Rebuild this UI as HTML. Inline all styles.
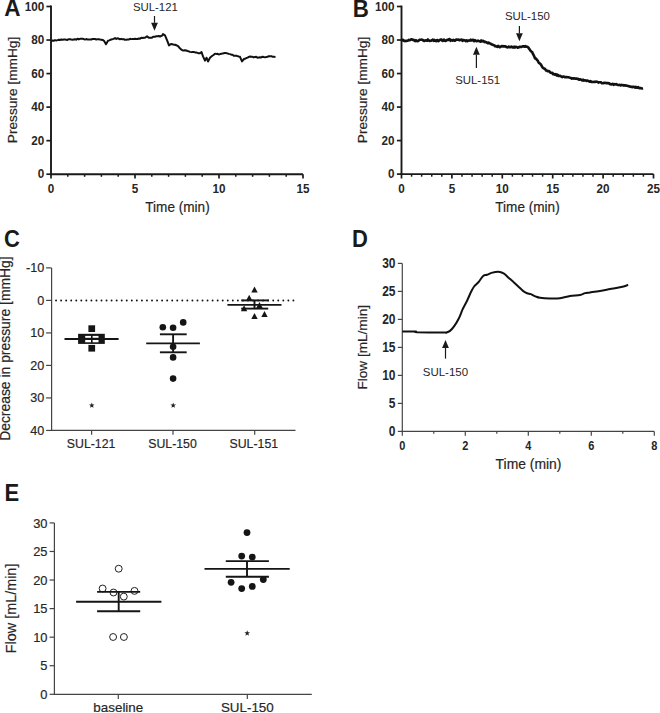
<!DOCTYPE html>
<html><head><meta charset="utf-8"><style>
html,body{margin:0;padding:0;background:#fff;}
body{width:660px;height:713px;overflow:hidden;}
svg{display:block;font-family:"Liberation Sans",sans-serif;}
</style></head><body>
<svg width="660" height="713" viewBox="0 0 660 713">
<rect width="660" height="713" fill="#fff"/>
<text transform="translate(4.30 16.30) scale(1 1.07)" font-size="22.5" font-weight="bold" text-anchor="start" fill="#1a1a1a">A</text>
<line x1="51.00" y1="5.60" x2="51.00" y2="175.10" stroke="#1a1a1a" stroke-width="1.9" />
<line x1="50.10" y1="174.20" x2="303.00" y2="174.20" stroke="#1a1a1a" stroke-width="1.9" />
<line x1="46.40" y1="174.20" x2="51.00" y2="174.20" stroke="#1a1a1a" stroke-width="1.7" />
<text transform="translate(44.30 178.33) scale(1 1.13)" font-size="11.7" font-weight="bold" text-anchor="end" fill="#262626">0</text>
<line x1="46.40" y1="140.66" x2="51.00" y2="140.66" stroke="#1a1a1a" stroke-width="1.7" />
<text transform="translate(44.30 144.79) scale(1 1.13)" font-size="11.7" font-weight="bold" text-anchor="end" fill="#262626">20</text>
<line x1="46.40" y1="107.12" x2="51.00" y2="107.12" stroke="#1a1a1a" stroke-width="1.7" />
<text transform="translate(44.30 111.25) scale(1 1.13)" font-size="11.7" font-weight="bold" text-anchor="end" fill="#262626">40</text>
<line x1="46.40" y1="73.58" x2="51.00" y2="73.58" stroke="#1a1a1a" stroke-width="1.7" />
<text transform="translate(44.30 77.71) scale(1 1.13)" font-size="11.7" font-weight="bold" text-anchor="end" fill="#262626">60</text>
<line x1="46.40" y1="40.04" x2="51.00" y2="40.04" stroke="#1a1a1a" stroke-width="1.7" />
<text transform="translate(44.30 44.17) scale(1 1.13)" font-size="11.7" font-weight="bold" text-anchor="end" fill="#262626">80</text>
<line x1="46.40" y1="6.50" x2="51.00" y2="6.50" stroke="#1a1a1a" stroke-width="1.7" />
<text transform="translate(44.30 10.63) scale(1 1.13)" font-size="11.7" font-weight="bold" text-anchor="end" fill="#262626">100</text>
<line x1="51.00" y1="174.20" x2="51.00" y2="178.60" stroke="#1a1a1a" stroke-width="1.7" />
<text transform="translate(51.00 193.20) scale(1 1.13)" font-size="11.7" font-weight="bold" text-anchor="middle" fill="#262626">0</text>
<line x1="67.80" y1="174.20" x2="67.80" y2="176.80" stroke="#1a1a1a" stroke-width="1.5" />
<line x1="84.60" y1="174.20" x2="84.60" y2="176.80" stroke="#1a1a1a" stroke-width="1.5" />
<line x1="101.40" y1="174.20" x2="101.40" y2="176.80" stroke="#1a1a1a" stroke-width="1.5" />
<line x1="118.20" y1="174.20" x2="118.20" y2="176.80" stroke="#1a1a1a" stroke-width="1.5" />
<line x1="135.00" y1="174.20" x2="135.00" y2="178.60" stroke="#1a1a1a" stroke-width="1.7" />
<text transform="translate(135.00 193.20) scale(1 1.13)" font-size="11.7" font-weight="bold" text-anchor="middle" fill="#262626">5</text>
<line x1="151.80" y1="174.20" x2="151.80" y2="176.80" stroke="#1a1a1a" stroke-width="1.5" />
<line x1="168.60" y1="174.20" x2="168.60" y2="176.80" stroke="#1a1a1a" stroke-width="1.5" />
<line x1="185.40" y1="174.20" x2="185.40" y2="176.80" stroke="#1a1a1a" stroke-width="1.5" />
<line x1="202.20" y1="174.20" x2="202.20" y2="176.80" stroke="#1a1a1a" stroke-width="1.5" />
<line x1="219.00" y1="174.20" x2="219.00" y2="178.60" stroke="#1a1a1a" stroke-width="1.7" />
<text transform="translate(219.00 193.20) scale(1 1.13)" font-size="11.7" font-weight="bold" text-anchor="middle" fill="#262626">10</text>
<line x1="235.80" y1="174.20" x2="235.80" y2="176.80" stroke="#1a1a1a" stroke-width="1.5" />
<line x1="252.60" y1="174.20" x2="252.60" y2="176.80" stroke="#1a1a1a" stroke-width="1.5" />
<line x1="269.40" y1="174.20" x2="269.40" y2="176.80" stroke="#1a1a1a" stroke-width="1.5" />
<line x1="286.20" y1="174.20" x2="286.20" y2="176.80" stroke="#1a1a1a" stroke-width="1.5" />
<line x1="303.00" y1="174.20" x2="303.00" y2="178.60" stroke="#1a1a1a" stroke-width="1.7" />
<text transform="translate(303.00 193.20) scale(1 1.13)" font-size="11.7" font-weight="bold" text-anchor="middle" fill="#262626">15</text>
<text transform="translate(177.50 212.30) scale(1 1.12)" font-size="13.6" font-weight="normal" text-anchor="middle" fill="#262626" stroke="#262626" stroke-width="0.18">Time (min)</text>
<text transform="translate(16.80 90.00) rotate(-90)" font-size="13.7" font-weight="normal" text-anchor="middle" fill="#262626" stroke="#262626" stroke-width="0.18">Pressure [mmHg]</text>
<polyline points="51.00,40.84 52.33,40.52 53.67,40.80 55.00,40.12 56.25,40.41 57.50,40.13 58.75,39.73 60.00,40.01 61.25,39.53 62.50,39.84 63.75,39.46 65.00,39.43 66.25,39.66 67.50,39.94 68.75,39.24 70.00,39.25 71.25,39.56 72.50,39.80 73.75,39.42 75.00,39.21 76.25,39.65 77.50,38.74 78.75,39.40 80.00,38.81 81.25,38.75 82.50,38.81 83.75,39.05 85.00,39.58 86.25,39.06 87.50,39.47 88.75,39.58 90.00,39.39 91.25,39.49 92.50,39.01 93.75,38.95 95.00,39.04 96.25,39.51 97.50,39.33 98.75,39.28 100.00,39.58 101.33,39.79 102.67,39.99 104.00,40.76 106.00,44.18 108.00,40.77 109.33,40.40 110.67,39.69 112.00,39.34 113.50,38.86 115.00,38.11 116.25,38.91 117.50,38.31 118.75,38.75 120.00,39.23 121.25,38.86 122.50,39.34 123.75,39.11 125.00,39.85 126.25,39.76 127.50,39.42 128.75,39.51 130.00,38.83 131.25,39.13 132.50,38.98 133.75,38.92 135.00,38.76 136.25,39.03 137.50,39.05 138.75,38.55 140.00,38.65 141.25,37.80 142.50,38.08 143.75,37.73 145.00,37.74 147.00,36.39 149.00,37.81 150.50,37.65 152.00,37.65 153.50,36.67 155.00,36.67 156.25,36.30 157.50,36.16 158.75,36.00 160.00,36.54 162.00,35.67 163.00,34.07 165.00,35.40 167.00,40.03 169.00,45.42 171.00,43.95 172.33,44.21 173.67,44.68 175.00,44.79 177.00,45.53 178.33,46.43 179.67,47.99 181.00,49.37 182.33,50.18 183.67,50.58 185.00,50.19 186.25,50.56 187.50,50.96 188.75,51.31 190.00,51.89 191.25,52.13 192.50,51.99 193.75,51.90 195.00,52.43 196.25,52.53 197.50,52.86 198.75,53.36 200.00,53.27 201.50,52.01 203.00,56.41 205.00,60.66 206.50,57.70 208.00,61.46 210.00,57.75 212.00,56.04 213.50,55.02 215.00,53.70 216.25,53.88 217.50,53.79 218.75,54.45 220.00,54.11 221.25,53.79 222.50,53.59 223.75,53.22 225.00,53.06 226.25,53.12 227.50,53.40 228.75,53.86 230.00,54.14 231.25,54.68 232.50,54.67 233.75,55.74 235.00,55.80 236.25,55.68 237.50,56.08 238.75,56.46 240.00,56.78 242.00,61.36 244.00,59.01 245.20,58.78 246.40,57.95 247.60,57.61 248.80,56.89 250.00,56.54 251.25,56.83 252.50,56.84 253.75,57.42 255.00,56.90 256.25,56.85 257.50,57.76 258.75,57.45 260.00,57.18 261.25,57.39 262.50,56.77 263.75,57.08 265.00,57.33 266.25,57.08 267.50,56.78 268.75,56.24 270.00,56.18 271.38,56.15 272.75,56.84 274.12,56.78 275.50,56.90" fill="none" stroke="#111" stroke-width="2.0" stroke-linejoin="round" stroke-linecap="butt"/>
<line x1="154.50" y1="16.00" x2="154.50" y2="22.80" stroke="#1a1a1a" stroke-width="1.2" />
<polygon points="151.10,22.80 157.90,22.80 154.50,30.80" fill="#1a1a1a"/>
<text transform="translate(155.40 10.90)" font-size="11.4" font-weight="normal" text-anchor="middle" fill="#262626">SUL-121</text>
<text transform="translate(352.80 16.50) scale(1 1.07)" font-size="22.3" font-weight="bold" text-anchor="start" fill="#1a1a1a">B</text>
<line x1="401.50" y1="5.60" x2="401.50" y2="175.00" stroke="#1a1a1a" stroke-width="1.9" />
<line x1="400.60" y1="174.10" x2="653.50" y2="174.10" stroke="#1a1a1a" stroke-width="1.9" />
<line x1="396.90" y1="174.10" x2="401.50" y2="174.10" stroke="#1a1a1a" stroke-width="1.7" />
<text transform="translate(394.40 178.23) scale(1 1.13)" font-size="11.7" font-weight="bold" text-anchor="end" fill="#262626">0</text>
<line x1="396.90" y1="140.58" x2="401.50" y2="140.58" stroke="#1a1a1a" stroke-width="1.7" />
<text transform="translate(394.40 144.71) scale(1 1.13)" font-size="11.7" font-weight="bold" text-anchor="end" fill="#262626">20</text>
<line x1="396.90" y1="107.06" x2="401.50" y2="107.06" stroke="#1a1a1a" stroke-width="1.7" />
<text transform="translate(394.40 111.19) scale(1 1.13)" font-size="11.7" font-weight="bold" text-anchor="end" fill="#262626">40</text>
<line x1="396.90" y1="73.54" x2="401.50" y2="73.54" stroke="#1a1a1a" stroke-width="1.7" />
<text transform="translate(394.40 77.67) scale(1 1.13)" font-size="11.7" font-weight="bold" text-anchor="end" fill="#262626">60</text>
<line x1="396.90" y1="40.02" x2="401.50" y2="40.02" stroke="#1a1a1a" stroke-width="1.7" />
<text transform="translate(394.40 44.15) scale(1 1.13)" font-size="11.7" font-weight="bold" text-anchor="end" fill="#262626">80</text>
<line x1="396.90" y1="6.50" x2="401.50" y2="6.50" stroke="#1a1a1a" stroke-width="1.7" />
<text transform="translate(394.40 10.63) scale(1 1.13)" font-size="11.7" font-weight="bold" text-anchor="end" fill="#262626">100</text>
<line x1="401.50" y1="174.10" x2="401.50" y2="178.50" stroke="#1a1a1a" stroke-width="1.7" />
<text transform="translate(401.50 193.20) scale(1 1.13)" font-size="11.7" font-weight="bold" text-anchor="middle" fill="#262626">0</text>
<line x1="411.58" y1="174.10" x2="411.58" y2="176.70" stroke="#1a1a1a" stroke-width="1.5" />
<line x1="421.66" y1="174.10" x2="421.66" y2="176.70" stroke="#1a1a1a" stroke-width="1.5" />
<line x1="431.74" y1="174.10" x2="431.74" y2="176.70" stroke="#1a1a1a" stroke-width="1.5" />
<line x1="441.82" y1="174.10" x2="441.82" y2="176.70" stroke="#1a1a1a" stroke-width="1.5" />
<line x1="451.90" y1="174.10" x2="451.90" y2="178.50" stroke="#1a1a1a" stroke-width="1.7" />
<text transform="translate(451.90 193.20) scale(1 1.13)" font-size="11.7" font-weight="bold" text-anchor="middle" fill="#262626">5</text>
<line x1="461.98" y1="174.10" x2="461.98" y2="176.70" stroke="#1a1a1a" stroke-width="1.5" />
<line x1="472.06" y1="174.10" x2="472.06" y2="176.70" stroke="#1a1a1a" stroke-width="1.5" />
<line x1="482.14" y1="174.10" x2="482.14" y2="176.70" stroke="#1a1a1a" stroke-width="1.5" />
<line x1="492.22" y1="174.10" x2="492.22" y2="176.70" stroke="#1a1a1a" stroke-width="1.5" />
<line x1="502.30" y1="174.10" x2="502.30" y2="178.50" stroke="#1a1a1a" stroke-width="1.7" />
<text transform="translate(502.30 193.20) scale(1 1.13)" font-size="11.7" font-weight="bold" text-anchor="middle" fill="#262626">10</text>
<line x1="512.38" y1="174.10" x2="512.38" y2="176.70" stroke="#1a1a1a" stroke-width="1.5" />
<line x1="522.46" y1="174.10" x2="522.46" y2="176.70" stroke="#1a1a1a" stroke-width="1.5" />
<line x1="532.54" y1="174.10" x2="532.54" y2="176.70" stroke="#1a1a1a" stroke-width="1.5" />
<line x1="542.62" y1="174.10" x2="542.62" y2="176.70" stroke="#1a1a1a" stroke-width="1.5" />
<line x1="552.70" y1="174.10" x2="552.70" y2="178.50" stroke="#1a1a1a" stroke-width="1.7" />
<text transform="translate(552.70 193.20) scale(1 1.13)" font-size="11.7" font-weight="bold" text-anchor="middle" fill="#262626">15</text>
<line x1="562.78" y1="174.10" x2="562.78" y2="176.70" stroke="#1a1a1a" stroke-width="1.5" />
<line x1="572.86" y1="174.10" x2="572.86" y2="176.70" stroke="#1a1a1a" stroke-width="1.5" />
<line x1="582.94" y1="174.10" x2="582.94" y2="176.70" stroke="#1a1a1a" stroke-width="1.5" />
<line x1="593.02" y1="174.10" x2="593.02" y2="176.70" stroke="#1a1a1a" stroke-width="1.5" />
<line x1="603.10" y1="174.10" x2="603.10" y2="178.50" stroke="#1a1a1a" stroke-width="1.7" />
<text transform="translate(603.10 193.20) scale(1 1.13)" font-size="11.7" font-weight="bold" text-anchor="middle" fill="#262626">20</text>
<line x1="613.18" y1="174.10" x2="613.18" y2="176.70" stroke="#1a1a1a" stroke-width="1.5" />
<line x1="623.26" y1="174.10" x2="623.26" y2="176.70" stroke="#1a1a1a" stroke-width="1.5" />
<line x1="633.34" y1="174.10" x2="633.34" y2="176.70" stroke="#1a1a1a" stroke-width="1.5" />
<line x1="643.42" y1="174.10" x2="643.42" y2="176.70" stroke="#1a1a1a" stroke-width="1.5" />
<line x1="653.50" y1="174.10" x2="653.50" y2="178.50" stroke="#1a1a1a" stroke-width="1.7" />
<text transform="translate(653.50 193.20) scale(1 1.13)" font-size="11.7" font-weight="bold" text-anchor="middle" fill="#262626">25</text>
<text transform="translate(527.50 212.30) scale(1 1.12)" font-size="13.6" font-weight="normal" text-anchor="middle" fill="#262626" stroke="#262626" stroke-width="0.18">Time (min)</text>
<text transform="translate(367.40 90.00) rotate(-90)" font-size="13.7" font-weight="normal" text-anchor="middle" fill="#262626" stroke="#262626" stroke-width="0.18">Pressure [mmHg]</text>
<polyline points="401.50,40.80 402.30,39.99 403.11,39.79 403.91,40.85 404.72,41.16 405.52,40.91 406.33,40.82 407.13,40.84 407.93,40.70 408.74,39.77 409.54,40.29 410.35,39.99 411.15,39.40 411.96,39.39 412.76,39.84 413.57,39.80 414.37,40.58 415.17,41.05 415.98,40.13 416.78,41.00 417.59,41.09 418.39,41.03 419.20,39.96 420.00,39.70 420.80,39.71 421.60,39.66 422.40,39.68 423.20,40.44 424.00,40.94 424.80,40.84 425.60,40.19 426.40,40.51 427.20,40.78 428.00,39.49 428.80,40.53 429.60,40.99 430.40,40.76 431.20,40.71 432.00,40.22 432.80,39.69 433.60,40.79 434.40,39.97 435.20,40.82 436.00,41.13 436.80,40.10 437.60,40.11 438.40,41.10 439.20,40.70 440.00,39.71 440.80,39.60 441.60,39.62 442.40,40.95 443.20,40.75 444.00,39.53 444.80,40.73 445.60,40.98 446.40,40.37 447.20,39.79 448.00,40.12 448.80,39.34 449.60,39.11 450.40,40.80 451.20,40.20 452.00,39.95 452.81,40.71 453.63,39.83 454.44,40.65 455.25,40.59 456.07,39.51 456.88,39.61 457.69,39.71 458.51,39.65 459.32,40.30 460.13,39.73 460.95,40.05 461.76,39.56 462.57,40.98 463.39,40.01 464.20,40.22 465.01,40.48 465.83,41.09 466.64,40.26 467.45,41.19 468.27,40.47 469.08,40.56 469.89,40.58 470.71,39.70 471.52,40.49 472.33,40.06 473.15,39.77 473.96,41.24 474.77,40.14 475.59,40.72 476.40,41.21 477.20,40.97 478.00,40.62 478.80,41.03 479.60,41.17 480.40,41.65 481.20,40.49 482.00,41.38 482.80,40.88 483.60,41.00 484.42,42.09 485.23,41.81 486.05,42.11 486.87,42.67 487.68,43.14 488.50,42.50 489.30,43.20 490.10,43.41 490.90,43.82 491.70,44.55 492.50,44.51 493.30,45.06 494.12,45.18 494.93,46.23 495.75,46.01 496.57,46.54 497.38,46.88 498.20,45.87 499.01,46.46 499.82,47.20 500.62,46.86 501.43,46.06 502.24,46.10 503.05,46.53 503.86,46.14 504.67,46.39 505.47,46.24 506.28,47.00 507.09,47.19 507.90,47.38 508.79,46.50 509.67,47.18 510.56,47.13 511.45,46.52 512.34,47.42 513.23,47.54 514.11,46.65 515.00,47.54 515.90,46.90 516.80,47.02 517.70,47.65 518.60,47.48 519.50,46.69 520.33,46.92 521.17,46.92 522.00,46.61 522.83,46.33 523.67,46.38 524.50,46.77 525.37,46.02 526.23,46.76 527.10,46.73 528.13,47.36 529.17,48.86 530.20,50.35 531.20,51.45 532.20,52.14 533.20,54.48 534.15,56.20 535.10,58.37 535.97,58.46 536.83,59.79 537.70,60.65 538.73,62.77 539.77,63.39 540.80,64.46 541.65,65.78 542.50,67.34 543.35,68.21 544.20,68.51 545.05,68.93 545.90,70.40 546.75,70.53 547.60,71.24 548.55,71.01 549.50,71.47 550.45,72.73 551.40,72.91 552.28,72.82 553.17,74.19 554.05,74.16 554.93,74.70 555.82,74.17 556.70,75.43 557.58,74.75 558.47,75.97 559.35,75.74 560.23,75.87 561.12,76.40 562.00,77.11 562.96,76.52 563.92,76.56 564.88,77.23 565.84,77.09 566.80,77.13 567.65,77.32 568.50,77.31 569.35,77.62 570.20,77.87 571.05,77.99 571.90,78.66 572.75,78.22 573.60,78.60 574.46,78.35 575.33,78.69 576.19,78.43 577.05,78.85 577.91,78.71 578.77,79.70 579.64,79.62 580.50,79.33 581.35,79.79 582.20,80.47 583.05,79.60 583.90,80.58 584.75,80.24 585.60,80.44 586.45,80.98 587.30,80.57 588.15,80.87 589.00,81.25 589.85,81.77 590.70,81.16 591.55,81.91 592.40,81.92 593.25,82.00 594.10,81.89 594.95,81.90 595.80,81.64 596.65,81.82 597.50,81.83 598.35,82.73 599.20,82.23 600.05,82.21 600.90,82.20 601.75,83.20 602.60,83.32 603.45,83.17 604.30,82.79 605.15,82.83 606.00,82.98 606.85,83.26 607.70,82.99 608.56,83.46 609.43,83.37 610.29,84.33 611.15,84.47 612.01,84.08 612.88,83.84 613.74,84.83 614.60,84.17 615.45,84.37 616.30,84.08 617.15,84.67 618.00,84.92 618.85,85.09 619.70,84.87 620.55,85.37 621.40,84.91 622.25,85.29 623.10,85.16 623.95,85.60 624.80,85.25 625.65,85.30 626.50,85.72 627.35,85.70 628.20,86.20 629.05,86.26 629.90,86.65 630.75,86.66 631.60,86.86 632.45,87.18 633.30,86.72 634.15,86.77 635.00,87.68 635.80,86.80 636.60,87.61 637.40,87.63 638.20,87.03 639.00,88.10 639.80,88.29 640.60,88.09 641.40,88.34 642.20,88.55 643.00,88.30" fill="none" stroke="#111" stroke-width="2.6" stroke-linejoin="round" stroke-linecap="butt"/>
<line x1="476.40" y1="68.00" x2="476.40" y2="54.80" stroke="#1a1a1a" stroke-width="1.2" />
<polygon points="473.00,54.80 479.80,54.80 476.40,46.80" fill="#1a1a1a"/>
<text transform="translate(477.70 83.80)" font-size="11.4" font-weight="normal" text-anchor="middle" fill="#262626">SUL-151</text>
<line x1="519.40" y1="26.00" x2="519.40" y2="33.20" stroke="#1a1a1a" stroke-width="1.2" />
<polygon points="516.00,33.20 522.80,33.20 519.40,41.20" fill="#1a1a1a"/>
<text transform="translate(527.40 20.30)" font-size="11.4" font-weight="normal" text-anchor="middle" fill="#262626">SUL-150</text>
<text transform="translate(3.90 247.40) scale(1 1.07)" font-size="22" font-weight="bold" text-anchor="start" fill="#1a1a1a">C</text>
<line x1="51.60" y1="267.89" x2="51.60" y2="431.04" stroke="#444" stroke-width="1.2" />
<line x1="51.00" y1="430.44" x2="295.50" y2="430.44" stroke="#444" stroke-width="1.2" />
<line x1="46.10" y1="267.89" x2="51.60" y2="267.89" stroke="#444" stroke-width="1.2" />
<text transform="translate(44.30 272.19) scale(1 1.02)" font-size="12.6" font-weight="normal" text-anchor="end" fill="#262626" stroke="#262626" stroke-width="0.18">-10</text>
<line x1="46.10" y1="300.40" x2="51.60" y2="300.40" stroke="#444" stroke-width="1.2" />
<text transform="translate(44.30 304.70) scale(1 1.02)" font-size="12.6" font-weight="normal" text-anchor="end" fill="#262626" stroke="#262626" stroke-width="0.18">0</text>
<line x1="46.10" y1="332.91" x2="51.60" y2="332.91" stroke="#444" stroke-width="1.2" />
<text transform="translate(44.30 337.21) scale(1 1.02)" font-size="12.6" font-weight="normal" text-anchor="end" fill="#262626" stroke="#262626" stroke-width="0.18">10</text>
<line x1="46.10" y1="365.42" x2="51.60" y2="365.42" stroke="#444" stroke-width="1.2" />
<text transform="translate(44.30 369.72) scale(1 1.02)" font-size="12.6" font-weight="normal" text-anchor="end" fill="#262626" stroke="#262626" stroke-width="0.18">20</text>
<line x1="46.10" y1="397.93" x2="51.60" y2="397.93" stroke="#444" stroke-width="1.2" />
<text transform="translate(44.30 402.23) scale(1 1.02)" font-size="12.6" font-weight="normal" text-anchor="end" fill="#262626" stroke="#262626" stroke-width="0.18">30</text>
<line x1="46.10" y1="430.44" x2="51.60" y2="430.44" stroke="#444" stroke-width="1.2" />
<text transform="translate(44.30 434.74) scale(1 1.02)" font-size="12.6" font-weight="normal" text-anchor="end" fill="#262626" stroke="#262626" stroke-width="0.18">40</text>
<line x1="91.60" y1="430.44" x2="91.60" y2="434.74" stroke="#444" stroke-width="1.2" />
<text transform="translate(91.10 447.60)" font-size="12.3" font-weight="normal" text-anchor="middle" fill="#262626" stroke="#262626" stroke-width="0.18">SUL-121</text>
<line x1="173.00" y1="430.44" x2="173.00" y2="434.74" stroke="#444" stroke-width="1.2" />
<text transform="translate(172.50 447.60)" font-size="12.3" font-weight="normal" text-anchor="middle" fill="#262626" stroke="#262626" stroke-width="0.18">SUL-150</text>
<line x1="254.70" y1="430.44" x2="254.70" y2="434.74" stroke="#444" stroke-width="1.2" />
<text transform="translate(253.80 447.60)" font-size="12.3" font-weight="normal" text-anchor="middle" fill="#262626" stroke="#262626" stroke-width="0.18">SUL-151</text>
<text transform="translate(10.10 348.60) rotate(-90)" font-size="13.9" font-weight="normal" text-anchor="middle" fill="#262626" stroke="#262626" stroke-width="0.18">Decrease in pressure [mmHg]</text>
<circle cx="56.06" cy="300.55" r="0.95" fill="#111"/><circle cx="61.11" cy="300.55" r="0.95" fill="#111"/><circle cx="66.16" cy="300.55" r="0.95" fill="#111"/><circle cx="71.21" cy="300.55" r="0.95" fill="#111"/><circle cx="76.26" cy="300.55" r="0.95" fill="#111"/><circle cx="81.31" cy="300.55" r="0.95" fill="#111"/><circle cx="86.36" cy="300.55" r="0.95" fill="#111"/><circle cx="91.41" cy="300.55" r="0.95" fill="#111"/><circle cx="96.46" cy="300.55" r="0.95" fill="#111"/><circle cx="101.51" cy="300.55" r="0.95" fill="#111"/><circle cx="106.56" cy="300.55" r="0.95" fill="#111"/><circle cx="111.61" cy="300.55" r="0.95" fill="#111"/><circle cx="116.66" cy="300.55" r="0.95" fill="#111"/><circle cx="121.71" cy="300.55" r="0.95" fill="#111"/><circle cx="126.76" cy="300.55" r="0.95" fill="#111"/><circle cx="131.81" cy="300.55" r="0.95" fill="#111"/><circle cx="136.86" cy="300.55" r="0.95" fill="#111"/><circle cx="141.91" cy="300.55" r="0.95" fill="#111"/><circle cx="146.96" cy="300.55" r="0.95" fill="#111"/><circle cx="152.01" cy="300.55" r="0.95" fill="#111"/><circle cx="157.06" cy="300.55" r="0.95" fill="#111"/><circle cx="162.11" cy="300.55" r="0.95" fill="#111"/><circle cx="167.16" cy="300.55" r="0.95" fill="#111"/><circle cx="172.21" cy="300.55" r="0.95" fill="#111"/><circle cx="177.26" cy="300.55" r="0.95" fill="#111"/><circle cx="182.31" cy="300.55" r="0.95" fill="#111"/><circle cx="187.36" cy="300.55" r="0.95" fill="#111"/><circle cx="192.41" cy="300.55" r="0.95" fill="#111"/><circle cx="197.46" cy="300.55" r="0.95" fill="#111"/><circle cx="202.51" cy="300.55" r="0.95" fill="#111"/><circle cx="207.56" cy="300.55" r="0.95" fill="#111"/><circle cx="212.61" cy="300.55" r="0.95" fill="#111"/><circle cx="217.66" cy="300.55" r="0.95" fill="#111"/><circle cx="222.71" cy="300.55" r="0.95" fill="#111"/><circle cx="227.76" cy="300.55" r="0.95" fill="#111"/><circle cx="232.81" cy="300.55" r="0.95" fill="#111"/><circle cx="237.86" cy="300.55" r="0.95" fill="#111"/><circle cx="242.91" cy="300.55" r="0.95" fill="#111"/><circle cx="247.96" cy="300.55" r="0.95" fill="#111"/><circle cx="253.01" cy="300.55" r="0.95" fill="#111"/><circle cx="258.06" cy="300.55" r="0.95" fill="#111"/><circle cx="263.11" cy="300.55" r="0.95" fill="#111"/><circle cx="268.16" cy="300.55" r="0.95" fill="#111"/><circle cx="273.21" cy="300.55" r="0.95" fill="#111"/><circle cx="278.26" cy="300.55" r="0.95" fill="#111"/><circle cx="283.31" cy="300.55" r="0.95" fill="#111"/><circle cx="288.36" cy="300.55" r="0.95" fill="#111"/><circle cx="293.41" cy="300.55" r="0.95" fill="#111"/>
<rect x="88.4" y="325.3" width="6.7" height="6.7" fill="#151515"/>
<rect x="88.4" y="344.9" width="6.7" height="6.7" fill="#151515"/>
<rect x="78.1" y="333.8" width="26.7" height="10.1" fill="#151515"/>
<rect x="85.2" y="335.9" width="5.8" height="1.9" fill="#fff"/>
<rect x="92.6" y="335.9" width="5.9" height="1.9" fill="#fff"/>
<rect x="85.2" y="339.9" width="5.8" height="2.4" fill="#fff"/>
<rect x="92.6" y="339.9" width="5.9" height="2.4" fill="#fff"/>
<line x1="64.50" y1="339.00" x2="118.60" y2="339.00" stroke="#151515" stroke-width="1.9" />
<circle cx="162.8" cy="327.2" r="3.3" fill="#151515"/>
<circle cx="173.1" cy="327.7" r="3.3" fill="#151515"/>
<circle cx="183.2" cy="322.4" r="3.3" fill="#151515"/>
<circle cx="173.1" cy="346.8" r="3.3" fill="#151515"/>
<circle cx="173.1" cy="357.4" r="3.3" fill="#151515"/>
<circle cx="173.1" cy="378.6" r="3.3" fill="#151515"/>
<line x1="146.20" y1="343.40" x2="199.90" y2="343.40" stroke="#151515" stroke-width="1.9" />
<line x1="159.90" y1="334.30" x2="186.70" y2="334.30" stroke="#151515" stroke-width="1.9" />
<line x1="159.90" y1="352.30" x2="186.70" y2="352.30" stroke="#151515" stroke-width="1.9" />
<line x1="173.10" y1="334.30" x2="173.10" y2="352.30" stroke="#151515" stroke-width="1.9" />
<polygon points="251.30,292.40 257.70,292.40 254.50,286.40" fill="#151515"/>
<polygon points="246.00,300.80 252.40,300.80 249.20,294.80" fill="#151515"/>
<polygon points="256.30,307.90 262.70,307.90 259.50,301.90" fill="#151515"/>
<polygon points="240.90,311.20 247.30,311.20 244.10,305.20" fill="#151515"/>
<polygon points="251.30,319.00 257.70,319.00 254.50,313.00" fill="#151515"/>
<polygon points="261.30,317.00 267.70,317.00 264.50,311.00" fill="#151515"/>
<line x1="227.40" y1="304.90" x2="281.50" y2="304.90" stroke="#151515" stroke-width="1.9" />
<line x1="241.20" y1="300.40" x2="268.80" y2="300.40" stroke="#151515" stroke-width="1.9" />
<line x1="241.20" y1="308.60" x2="268.20" y2="308.60" stroke="#151515" stroke-width="1.9" />
<line x1="254.50" y1="300.40" x2="254.50" y2="308.60" stroke="#151515" stroke-width="1.9" />
<polygon points="91.80,402.40 92.53,404.39 94.65,404.47 92.99,405.79 93.56,407.83 91.80,406.65 90.04,407.83 90.61,405.79 88.95,404.47 91.07,404.39" fill="#222"/>
<polygon points="173.20,402.40 173.93,404.39 176.05,404.47 174.39,405.79 174.96,407.83 173.20,406.65 171.44,407.83 172.01,405.79 170.35,404.47 172.47,404.39" fill="#222"/>
<text transform="translate(351.90 247.40) scale(1 1.07)" font-size="22" font-weight="bold" text-anchor="start" fill="#1a1a1a">D</text>
<line x1="402.30" y1="263.40" x2="402.30" y2="432.00" stroke="#444" stroke-width="1.2" />
<line x1="401.70" y1="431.40" x2="654.30" y2="431.40" stroke="#444" stroke-width="1.2" />
<line x1="397.80" y1="431.40" x2="402.30" y2="431.40" stroke="#444" stroke-width="1.2" />
<text transform="translate(395.50 436.24) scale(1 1.15)" font-size="12" font-weight="bold" text-anchor="end" fill="#262626">0</text>
<line x1="397.80" y1="403.40" x2="402.30" y2="403.40" stroke="#444" stroke-width="1.2" />
<text transform="translate(395.50 408.24) scale(1 1.15)" font-size="12" font-weight="bold" text-anchor="end" fill="#262626">5</text>
<line x1="397.80" y1="375.40" x2="402.30" y2="375.40" stroke="#444" stroke-width="1.2" />
<text transform="translate(395.50 380.24) scale(1 1.15)" font-size="12" font-weight="bold" text-anchor="end" fill="#262626">10</text>
<line x1="397.80" y1="347.40" x2="402.30" y2="347.40" stroke="#444" stroke-width="1.2" />
<text transform="translate(395.50 352.24) scale(1 1.15)" font-size="12" font-weight="bold" text-anchor="end" fill="#262626">15</text>
<line x1="397.80" y1="319.40" x2="402.30" y2="319.40" stroke="#444" stroke-width="1.2" />
<text transform="translate(395.50 324.24) scale(1 1.15)" font-size="12" font-weight="bold" text-anchor="end" fill="#262626">20</text>
<line x1="397.80" y1="291.40" x2="402.30" y2="291.40" stroke="#444" stroke-width="1.2" />
<text transform="translate(395.50 296.24) scale(1 1.15)" font-size="12" font-weight="bold" text-anchor="end" fill="#262626">25</text>
<line x1="397.80" y1="263.40" x2="402.30" y2="263.40" stroke="#444" stroke-width="1.2" />
<text transform="translate(395.50 268.24) scale(1 1.15)" font-size="12" font-weight="bold" text-anchor="end" fill="#262626">30</text>
<line x1="402.30" y1="431.40" x2="402.30" y2="435.70" stroke="#444" stroke-width="1.2" />
<text transform="translate(402.30 450.30) scale(1 1.12)" font-size="11" font-weight="bold" text-anchor="middle" fill="#262626">0</text>
<line x1="433.80" y1="431.40" x2="433.80" y2="433.80" stroke="#444" stroke-width="1.2" />
<line x1="465.30" y1="431.40" x2="465.30" y2="435.70" stroke="#444" stroke-width="1.2" />
<text transform="translate(465.30 450.30) scale(1 1.12)" font-size="11" font-weight="bold" text-anchor="middle" fill="#262626">2</text>
<line x1="496.80" y1="431.40" x2="496.80" y2="433.80" stroke="#444" stroke-width="1.2" />
<line x1="528.30" y1="431.40" x2="528.30" y2="435.70" stroke="#444" stroke-width="1.2" />
<text transform="translate(528.30 450.30) scale(1 1.12)" font-size="11" font-weight="bold" text-anchor="middle" fill="#262626">4</text>
<line x1="559.80" y1="431.40" x2="559.80" y2="433.80" stroke="#444" stroke-width="1.2" />
<line x1="591.30" y1="431.40" x2="591.30" y2="435.70" stroke="#444" stroke-width="1.2" />
<text transform="translate(591.30 450.30) scale(1 1.12)" font-size="11" font-weight="bold" text-anchor="middle" fill="#262626">6</text>
<line x1="622.80" y1="431.40" x2="622.80" y2="433.80" stroke="#444" stroke-width="1.2" />
<line x1="654.30" y1="431.40" x2="654.30" y2="435.70" stroke="#444" stroke-width="1.2" />
<text transform="translate(654.30 450.30) scale(1 1.12)" font-size="11" font-weight="bold" text-anchor="middle" fill="#262626">8</text>
<text transform="translate(528.50 468.60)" font-size="13.9" font-weight="normal" text-anchor="middle" fill="#262626" stroke="#262626" stroke-width="0.18">Time (min)</text>
<text transform="translate(367.00 347.30) rotate(-90)" font-size="13.6" font-weight="normal" text-anchor="middle" fill="#262626" stroke="#262626" stroke-width="0.18">Flow [mL/min]</text>
<path d="M402.30,331.50 C404.50,331.50 413.05,331.37 415.50,331.50 C417.95,331.63 412.25,332.13 417.00,332.30 C421.75,332.47 439.17,332.45 444.00,332.50 C448.83,332.55 445.00,332.87 446.00,332.60 C447.00,332.33 448.60,332.02 450.00,330.90 C451.40,329.78 452.92,328.00 454.40,325.90 C455.88,323.80 457.52,321.08 458.90,318.30 C460.28,315.52 461.30,312.22 462.70,309.20 C464.10,306.18 465.90,303.10 467.30,300.20 C468.70,297.30 469.97,294.08 471.10,291.80 C472.23,289.52 472.85,288.13 474.10,286.50 C475.35,284.87 477.08,283.77 478.60,282.00 C480.12,280.23 481.80,277.10 483.20,275.90 C484.60,274.70 485.62,275.30 487.00,274.80 C488.38,274.30 489.62,273.40 491.50,272.90 C493.38,272.40 496.28,271.73 498.30,271.80 C500.32,271.87 501.95,272.37 503.60,273.30 C505.25,274.23 506.43,275.83 508.20,277.40 C509.97,278.97 512.43,281.10 514.20,282.70 C515.97,284.30 517.28,285.60 518.80,287.00 C520.32,288.40 521.92,290.05 523.30,291.10 C524.68,292.15 525.83,292.80 527.10,293.30 C528.37,293.80 529.50,293.58 530.90,294.10 C532.30,294.62 533.98,295.78 535.50,296.40 C537.02,297.02 537.58,297.45 540.00,297.80 C542.42,298.15 546.67,298.43 550.00,298.50 C553.33,298.57 556.67,298.62 560.00,298.20 C563.33,297.78 566.67,296.55 570.00,296.00 C573.33,295.45 577.50,295.38 580.00,294.90 C582.50,294.42 583.33,293.52 585.00,293.10 C586.67,292.68 587.50,292.77 590.00,292.40 C592.50,292.03 596.67,291.45 600.00,290.90 C603.33,290.35 606.67,289.70 610.00,289.10 C613.33,288.50 617.33,287.85 620.00,287.30 C622.67,286.75 624.67,286.27 626.00,285.80 C627.33,285.33 627.67,284.72 628.00,284.50" fill="none" stroke="#111" stroke-width="2.0" stroke-linejoin="round"/>
<line x1="445.50" y1="358.60" x2="445.50" y2="348.00" stroke="#1a1a1a" stroke-width="1.2" />
<polygon points="442.10,348.00 448.90,348.00 445.50,340.00" fill="#1a1a1a"/>
<text transform="translate(445.40 375.60)" font-size="11.5" font-weight="normal" text-anchor="middle" fill="#262626">SUL-150</text>
<text transform="translate(4.40 501.30) scale(1 1.07)" font-size="22" font-weight="bold" text-anchor="start" fill="#1a1a1a">E</text>
<line x1="54.40" y1="522.90" x2="54.40" y2="694.90" stroke="#444" stroke-width="1.2" />
<line x1="53.80" y1="694.30" x2="311.80" y2="694.30" stroke="#444" stroke-width="1.2" />
<line x1="49.60" y1="694.30" x2="54.40" y2="694.30" stroke="#444" stroke-width="1.2" />
<text transform="translate(47.55 699.04) scale(1 1.05)" font-size="12.9" font-weight="normal" text-anchor="end" fill="#262626" stroke="#262626" stroke-width="0.18">0</text>
<line x1="49.60" y1="665.73" x2="54.40" y2="665.73" stroke="#444" stroke-width="1.2" />
<text transform="translate(47.55 670.47) scale(1 1.05)" font-size="12.9" font-weight="normal" text-anchor="end" fill="#262626" stroke="#262626" stroke-width="0.18">5</text>
<line x1="49.60" y1="637.17" x2="54.40" y2="637.17" stroke="#444" stroke-width="1.2" />
<text transform="translate(47.55 641.91) scale(1 1.05)" font-size="12.9" font-weight="normal" text-anchor="end" fill="#262626" stroke="#262626" stroke-width="0.18">10</text>
<line x1="49.60" y1="608.60" x2="54.40" y2="608.60" stroke="#444" stroke-width="1.2" />
<text transform="translate(47.55 613.34) scale(1 1.05)" font-size="12.9" font-weight="normal" text-anchor="end" fill="#262626" stroke="#262626" stroke-width="0.18">15</text>
<line x1="49.60" y1="580.03" x2="54.40" y2="580.03" stroke="#444" stroke-width="1.2" />
<text transform="translate(47.55 584.77) scale(1 1.05)" font-size="12.9" font-weight="normal" text-anchor="end" fill="#262626" stroke="#262626" stroke-width="0.18">20</text>
<line x1="49.60" y1="551.47" x2="54.40" y2="551.47" stroke="#444" stroke-width="1.2" />
<text transform="translate(47.55 556.21) scale(1 1.05)" font-size="12.9" font-weight="normal" text-anchor="end" fill="#262626" stroke="#262626" stroke-width="0.18">25</text>
<line x1="49.60" y1="522.90" x2="54.40" y2="522.90" stroke="#444" stroke-width="1.2" />
<text transform="translate(47.55 527.64) scale(1 1.05)" font-size="12.9" font-weight="normal" text-anchor="end" fill="#262626" stroke="#262626" stroke-width="0.18">30</text>
<line x1="118.30" y1="694.30" x2="118.30" y2="698.90" stroke="#444" stroke-width="1.2" />
<text transform="translate(118.30 712.00)" font-size="13.4" font-weight="normal" text-anchor="middle" fill="#262626" stroke="#262626" stroke-width="0.18">baseline</text>
<line x1="247.30" y1="694.30" x2="247.30" y2="698.90" stroke="#444" stroke-width="1.2" />
<text transform="translate(247.30 712.00)" font-size="13.4" font-weight="normal" text-anchor="middle" fill="#262626" stroke="#262626" stroke-width="0.18">SUL-150</text>
<text transform="translate(16.10 608.40) rotate(-90)" font-size="14.4" font-weight="normal" text-anchor="middle" fill="#262626" stroke="#262626" stroke-width="0.18">Flow [mL/min]</text>
<circle cx="118.7" cy="568.7" r="3.45" fill="none" stroke="#222" stroke-width="1.0"/>
<circle cx="102.6" cy="588.5" r="3.45" fill="none" stroke="#222" stroke-width="1.0"/>
<circle cx="113.5" cy="592.5" r="3.45" fill="none" stroke="#222" stroke-width="1.0"/>
<circle cx="123.8" cy="596.6" r="3.45" fill="none" stroke="#222" stroke-width="1.0"/>
<circle cx="134.5" cy="590.9" r="3.45" fill="none" stroke="#222" stroke-width="1.0"/>
<circle cx="113.1" cy="637" r="3.45" fill="none" stroke="#222" stroke-width="1.0"/>
<circle cx="123.9" cy="637" r="3.45" fill="none" stroke="#222" stroke-width="1.0"/>
<line x1="76.10" y1="601.80" x2="161.40" y2="601.80" stroke="#151515" stroke-width="1.9" />
<line x1="97.10" y1="591.90" x2="140.20" y2="591.90" stroke="#151515" stroke-width="1.9" />
<line x1="97.10" y1="611.30" x2="140.20" y2="611.30" stroke="#151515" stroke-width="1.9" />
<line x1="118.70" y1="591.90" x2="118.70" y2="611.30" stroke="#151515" stroke-width="1.9" />
<circle cx="247" cy="532.6" r="3.4" fill="#151515"/>
<circle cx="241.7" cy="556.1" r="3.4" fill="#151515"/>
<circle cx="252.3" cy="557.1" r="3.4" fill="#151515"/>
<circle cx="231.1" cy="582.3" r="3.4" fill="#151515"/>
<circle cx="241.7" cy="588.6" r="3.4" fill="#151515"/>
<circle cx="252.3" cy="586.4" r="3.4" fill="#151515"/>
<circle cx="263.3" cy="579.5" r="3.4" fill="#151515"/>
<line x1="204.50" y1="568.90" x2="289.70" y2="568.90" stroke="#151515" stroke-width="1.9" />
<line x1="225.80" y1="561.10" x2="268.90" y2="561.10" stroke="#151515" stroke-width="1.9" />
<line x1="225.80" y1="576.80" x2="268.90" y2="576.80" stroke="#151515" stroke-width="1.9" />
<line x1="247.00" y1="561.10" x2="247.00" y2="576.80" stroke="#151515" stroke-width="1.9" />
<polygon points="247.20,630.20 247.93,632.19 250.05,632.27 248.39,633.59 248.96,635.63 247.20,634.45 245.44,635.63 246.01,633.59 244.35,632.27 246.47,632.19" fill="#222"/>
</svg>
</body></html>
